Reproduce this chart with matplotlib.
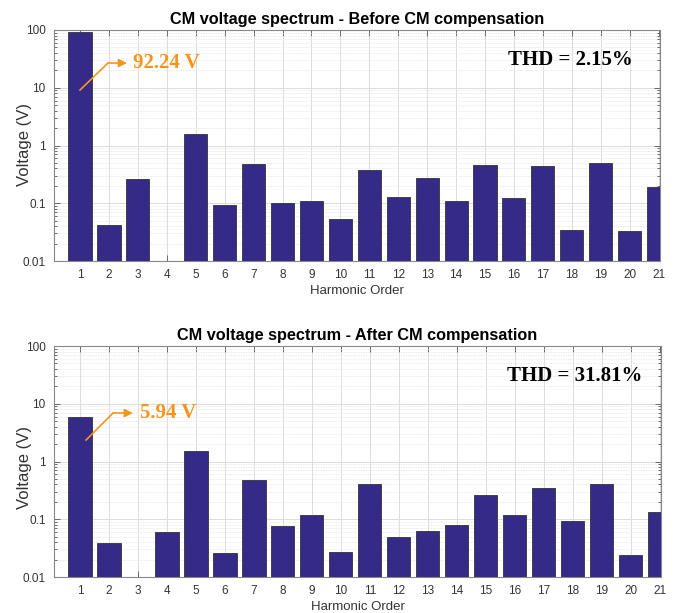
import numpy as np
import matplotlib
matplotlib.use("Agg")
import matplotlib.pyplot as plt
from matplotlib.ticker import LogLocator, NullFormatter, FixedLocator

harmonics = list(range(1, 22))
before = [92.24, 0.042, 0.266, 0.0, 1.56, 0.092, 0.478, 0.102, 0.111, 0.053,
          0.381, 0.128, 0.277, 0.109, 0.465, 0.125, 0.44, 0.0344, 0.497, 0.0335, 0.194]
after = [5.94, 0.0388, 0.0, 0.060, 1.55, 0.0256, 0.476, 0.075, 0.118, 0.0274,
         0.406, 0.0492, 0.0615, 0.080, 0.265, 0.118, 0.351, 0.094, 0.40, 0.0243, 0.135]
titles = ["CM voltage spectrum - Before CM compensation",
          "CM voltage spectrum - After CM compensation"]
thd_labels = ["THD = 2.15%", "THD = 31.81%"]
fund_labels = ["92.24 V", "5.94 V"]
yticks = [0.01, 0.1, 1, 10, 100]
ytick_labels = ["0.01", "0.1", "1", "10", "100"]

W, H = 679, 613
fig = plt.figure(figsize=(W / 100, H / 100), dpi=100)

bar_color = "#352A87"
orange = "#F7941D"
sans = ["Liberation Sans", "DejaVu Sans"]
serif = ["Liberation Serif", "DejaVu Serif"]

# pixel boxes: (left, top, right, bottom)
boxes = [(54, 30, 660, 261), (54, 346, 661, 577)]
# arrow geometry in axes fraction: start, elbow, tip, text position
arrows = [((0.0429, 0.740), (0.0891, 0.857), (0.1205, 0.857), (0.130, 0.857)),
          ((0.0528, 0.593), (0.0974, 0.710), (0.130, 0.710), (0.142, 0.710))]
thd_pos = [(0.749, 0.870), (0.746, 0.870)]
ylabel_y = [0.506, 0.472]

for i, vals in enumerate([before, after]):
    l, t, r, b = boxes[i]
    ax = fig.add_axes([l / W, 1 - b / H, (r - l) / W, (b - t) / H])
    v = np.array(vals, dtype=float)
    v = np.where(v > 0, v, np.nan)
    ax.bar(harmonics, v, width=0.8, bottom=1e-4, color=bar_color,
           edgecolor="#333333", linewidth=0.6, zorder=3)
    ax.set_yscale("log")
    ax.set_ylim(0.01, 100)
    ax.set_xlim(0.1, 21.05)
    ax.set_xticks(harmonics)
    ax.set_xticklabels([str(h) for h in harmonics], family=sans, fontsize=8.5, color="#333333")
    ax.yaxis.set_major_locator(FixedLocator(yticks))
    ax.set_yticklabels(ytick_labels, family=sans, fontsize=8.5, color="#333333")
    ax.yaxis.set_minor_locator(LogLocator(base=10, subs=np.arange(2, 10)))
    ax.yaxis.set_minor_formatter(NullFormatter())
    ax.grid(True, which="major", color="#dcdcdc", linewidth=0.7, zorder=0)
    ax.grid(True, which="minor", axis="y", color="#e4e4e4", linewidth=0.6,
            linestyle=(0, (1, 1)), zorder=0)
    ax.set_axisbelow(True)
    ax.tick_params(which="both", direction="in", top=True, right=True,
                   color="#555555", width=0.6)
    ax.tick_params(which="major", length=4, pad=6)
    ax.tick_params(which="minor", length=2)
    for s in ax.spines.values():
        s.set_color("#888888")
        s.set_linewidth(0.8)
    ax.set_xlabel("Harmonic Order", family=sans, fontsize=9.5, color="#333333", labelpad=3)
    ax.set_ylabel("Voltage (V)", family=sans, fontsize=12, color="#333333")
    ax.yaxis.set_label_coords(-0.037, ylabel_y[i])
    ax.set_title(titles[i], family=sans, fontsize=11.7, fontweight="bold", pad=4)

    start, elbow, tip, tpos = arrows[i]
    ax.plot([start[0], elbow[0]], [start[1], elbow[1]], transform=ax.transAxes,
            color=orange, linewidth=1.2, zorder=5, clip_on=False)
    ax.annotate("", xy=tip, xytext=elbow, xycoords="axes fraction",
                textcoords="axes fraction",
                arrowprops=dict(arrowstyle="-|>", color=orange, lw=1.2,
                                mutation_scale=12, shrinkA=0, shrinkB=0), zorder=5)
    ax.text(tpos[0], tpos[1], fund_labels[i], transform=ax.transAxes,
            family=serif, fontsize=15, fontweight="bold", color=orange,
            ha="left", va="center", zorder=6)
    ax.text(thd_pos[i][0], thd_pos[i][1], thd_labels[i], transform=ax.transAxes,
            family=serif, fontsize=15, fontweight="bold", color="black",
            ha="left", va="center", zorder=6)

fig.savefig("out.png", dpi=100)
